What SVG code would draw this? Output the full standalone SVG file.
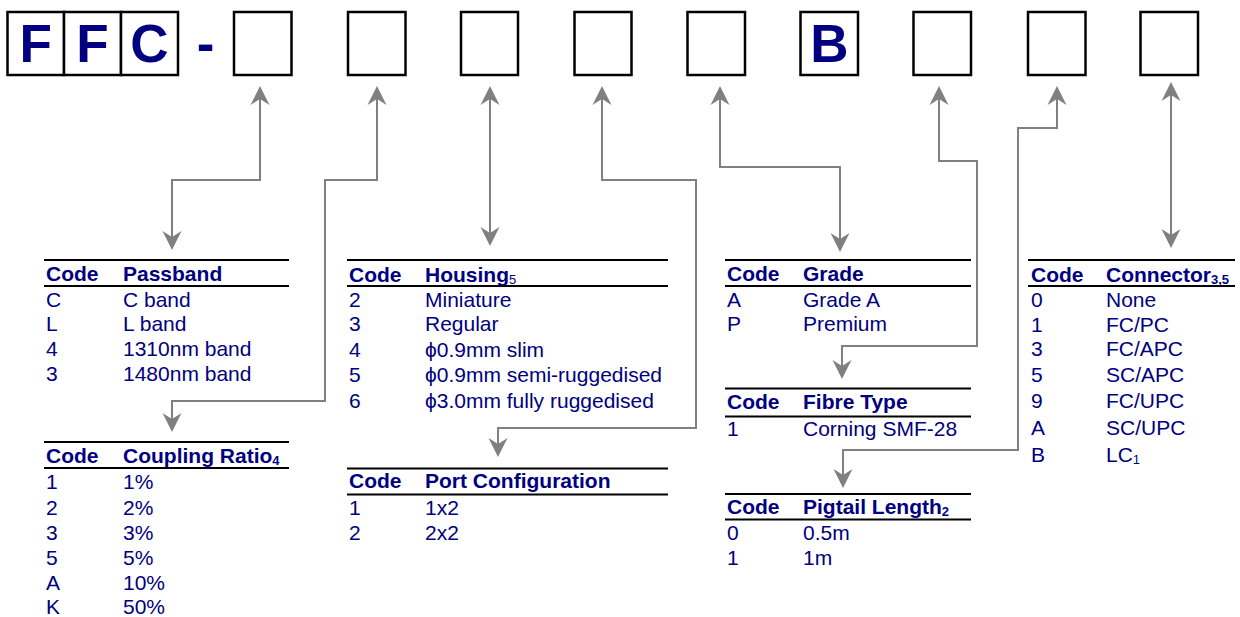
<svg xmlns="http://www.w3.org/2000/svg" width="1240" height="617" viewBox="0 0 1240 617">
<style>
.box{fill:#fff;stroke:#000;stroke-width:2.5}
.big{font-family:"Liberation Sans",Arial,sans-serif;font-weight:bold;font-size:53px;fill:#000080;text-anchor:middle}
.t{font-family:"Liberation Sans",Arial,sans-serif;font-size:21px;fill:#000080}
.h{font-weight:bold}
.sub{font-size:13px}
.rule{stroke:#000;stroke-width:2}
.conn{fill:none;stroke:#808080;stroke-width:2}
</style>
<defs>
<marker id="ah" viewBox="-14 -10 21 20" markerWidth="21" markerHeight="20" refX="0" refY="0" markerUnits="userSpaceOnUse" orient="auto-start-reverse">
<path d="M6,0 L-13,-9.5 L-7,0 L-13,9.5 Z" fill="#808080"/>
</marker>
</defs>
<rect width="1240" height="617" fill="#fff"/>
<g id="code">
<rect class="box" x="7.5" y="12" width="56.5" height="63"/>
<rect class="box" x="64" y="12" width="57" height="63"/>
<rect class="box" x="121" y="12" width="57" height="63"/>
<text class="big" x="35.7" y="62">F</text>
<text class="big" x="92.5" y="62">F</text>
<text class="big" x="149.5" y="62">C</text>
<text class="big" x="205.5" y="62">-</text>
<rect class="box" x="234" y="12" width="57.5" height="63"/>
<rect class="box" x="348" y="12" width="57.5" height="63"/>
<rect class="box" x="461" y="12" width="57" height="63"/>
<rect class="box" x="574.5" y="12" width="57" height="63"/>
<rect class="box" x="687.5" y="12" width="57.5" height="63"/>
<rect class="box" x="800.5" y="12" width="57.5" height="63"/>
<text class="big" x="829.5" y="62">B</text>
<rect class="box" x="913.5" y="12" width="57.5" height="63"/>
<rect class="box" x="1028" y="12" width="57.5" height="63"/>
<rect class="box" x="1140.5" y="12" width="57.5" height="63"/>
</g>
<g id="connectors">
<path class="conn" d="M260,92 V180 H172 V244" marker-start="url(#ah)" marker-end="url(#ah)"/>
<path class="conn" d="M377,92 V180 H325 V401 H172 V426" marker-start="url(#ah)" marker-end="url(#ah)"/>
<path class="conn" d="M490,92 V240" marker-start="url(#ah)" marker-end="url(#ah)"/>
<path class="conn" d="M602,92 V180 H696 V428 H498 V451" marker-start="url(#ah)" marker-end="url(#ah)"/>
<path class="conn" d="M720,92 V167 H840 V246" marker-start="url(#ah)" marker-end="url(#ah)"/>
<path class="conn" d="M939,92 V161 H977 V346 H842 V373" marker-start="url(#ah)" marker-end="url(#ah)"/>
<path class="conn" d="M1057,92 V128 H1018 V450 H843 V482" marker-start="url(#ah)" marker-end="url(#ah)"/>
<path class="conn" d="M1171,88 V242" marker-start="url(#ah)" marker-end="url(#ah)"/>
</g>
<g id="passband">
<line class="rule" x1="44" y1="260" x2="289" y2="260"/>
<line class="rule" x1="44" y1="286" x2="289" y2="286"/>
<text class="t h" x="46" y="281">Code</text>
<text class="t h" x="123" y="281">Passband</text>
<text class="t" x="46" y="306.5">C</text><text class="t" x="123" y="306.5">C band</text>
<text class="t" x="46" y="331">L</text><text class="t" x="123" y="331">L band</text>
<text class="t" x="46" y="356">4</text><text class="t" x="123" y="356">1310nm band</text>
<text class="t" x="46" y="381">3</text><text class="t" x="123" y="381">1480nm band</text>
</g>
<g id="coupling">
<line class="rule" x1="44" y1="442" x2="289" y2="442"/>
<line class="rule" x1="44" y1="468" x2="289" y2="468"/>
<text class="t h" x="46" y="462.5">Code</text>
<text class="t h" x="123" y="462.5">Coupling Ratio<tspan class="sub" dy="2">4</tspan></text>
<text class="t" x="46" y="489">1</text><text class="t" x="123" y="489">1%</text>
<text class="t" x="46" y="514.5">2</text><text class="t" x="123" y="514.5">2%</text>
<text class="t" x="46" y="540">3</text><text class="t" x="123" y="540">3%</text>
<text class="t" x="46" y="565">5</text><text class="t" x="123" y="565">5%</text>
<text class="t" x="46" y="590">A</text><text class="t" x="123" y="590">10%</text>
<text class="t" x="46" y="614">K</text><text class="t" x="123" y="614">50%</text>
</g>
<g id="housing">
<line class="rule" x1="347" y1="260" x2="668" y2="260"/>
<line class="rule" x1="347" y1="286" x2="668" y2="286"/>
<text class="t h" x="349" y="281.5">Code</text>
<text class="t h" x="425" y="281.5">Housing<tspan class="sub" font-weight="normal" dy="2">5</tspan></text>
<text class="t" x="349" y="306.5">2</text><text class="t" x="425" y="306.5">Miniature</text>
<text class="t" x="349" y="331">3</text><text class="t" x="425" y="331">Regular</text>
<text class="t" x="349" y="356.5">4</text><text class="t" x="425" y="356.5">ϕ0.9mm slim</text>
<text class="t" x="349" y="381.5">5</text><text class="t" x="425" y="381.5">ϕ0.9mm semi-ruggedised</text>
<text class="t" x="349" y="408">6</text><text class="t" x="425" y="408">ϕ3.0mm fully ruggedised</text>
</g>
<g id="port">
<line class="rule" x1="347" y1="468.5" x2="668" y2="468.5"/>
<line class="rule" x1="347" y1="494.5" x2="668" y2="494.5"/>
<text class="t h" x="349" y="488">Code</text>
<text class="t h" x="425" y="488">Port Configuration</text>
<text class="t" x="349" y="515">1</text><text class="t" x="425" y="515">1x2</text>
<text class="t" x="349" y="540">2</text><text class="t" x="425" y="540">2x2</text>
</g>
<g id="grade">
<line class="rule" x1="725" y1="260" x2="971" y2="260"/>
<line class="rule" x1="725" y1="286" x2="971" y2="286"/>
<text class="t h" x="727" y="281">Code</text>
<text class="t h" x="803" y="281">Grade</text>
<text class="t" x="727" y="307">A</text><text class="t" x="803" y="307">Grade A</text>
<text class="t" x="727" y="331">P</text><text class="t" x="803" y="331">Premium</text>
</g>
<g id="fibre">
<line class="rule" x1="725" y1="388.5" x2="971" y2="388.5"/>
<line class="rule" x1="725" y1="416.5" x2="971" y2="416.5"/>
<text class="t h" x="727" y="409">Code</text>
<text class="t h" x="803" y="409">Fibre Type</text>
<text class="t" x="727" y="436">1</text><text class="t" x="803" y="436">Corning SMF-28</text>
</g>
<g id="pigtail">
<line class="rule" x1="725" y1="494" x2="971" y2="494"/>
<line class="rule" x1="725" y1="519.5" x2="971" y2="519.5"/>
<text class="t h" x="727" y="514">Code</text>
<text class="t h" x="803" y="514">Pigtail Length<tspan class="sub" dy="2">2</tspan></text>
<text class="t" x="727" y="539.5">0</text><text class="t" x="803" y="539.5">0.5m</text>
<text class="t" x="727" y="564.5">1</text><text class="t" x="803" y="564.5">1m</text>
</g>
<g id="connector">
<line class="rule" x1="1028" y1="260" x2="1235" y2="260"/>
<line class="rule" x1="1028" y1="286" x2="1235" y2="286"/>
<text class="t h" x="1031" y="281.5">Code</text>
<text class="t h" x="1106" y="281.5">Connector<tspan class="sub" dy="2">3,5</tspan></text>
<text class="t" x="1031" y="306.5">0</text><text class="t" x="1106" y="306.5">None</text>
<text class="t" x="1031" y="331.5">1</text><text class="t" x="1106" y="331.5">FC/PC</text>
<text class="t" x="1031" y="356">3</text><text class="t" x="1106" y="356">FC/APC</text>
<text class="t" x="1031" y="381.5">5</text><text class="t" x="1106" y="381.5">SC/APC</text>
<text class="t" x="1031" y="408">9</text><text class="t" x="1106" y="408">FC/UPC</text>
<text class="t" x="1031" y="435">A</text><text class="t" x="1106" y="435">SC/UPC</text>
<text class="t" x="1031" y="462">B</text><text class="t" x="1106" y="462">LC<tspan class="sub" dy="2">1</tspan></text>
</g>
</svg>
